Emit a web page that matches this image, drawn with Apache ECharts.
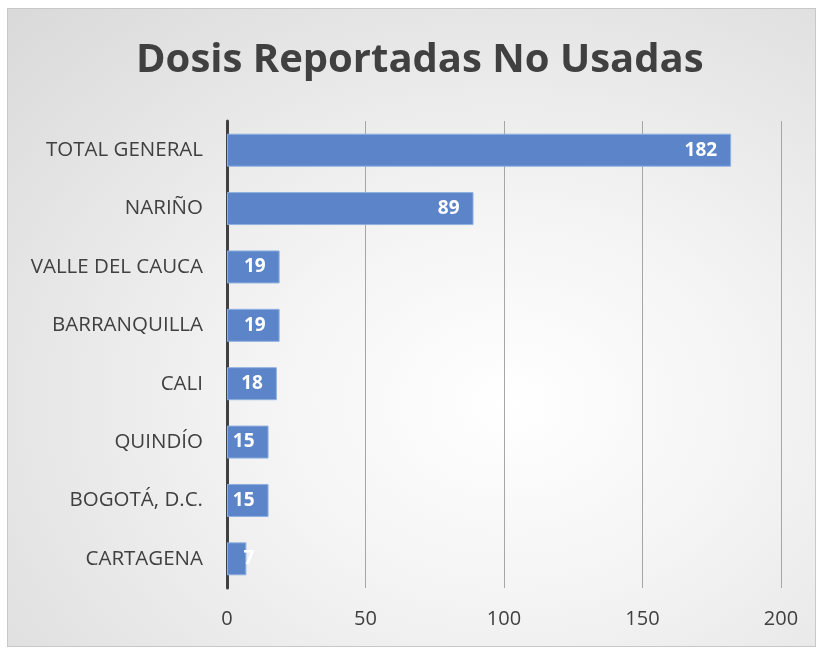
<!DOCTYPE html>
<html>
<head>
<meta charset="utf-8">
<script src="https://cdn.jsdelivr.net/npm/echarts@6/dist/echarts.min.js"></script>
<style>
  html, body { margin: 0; padding: 0; background: #fff; }
  #box {
    position: absolute; left: 7px; top: 8px; width: 809px; height: 639px;
    border: 1px solid #c8c8c8; box-sizing: border-box;
    background: radial-gradient(ellipse at 62% 62%, #ffffff 0%, #f4f4f4 35%, #d9d9d9 100%);
  }
  #chart { width: 100%; height: 100%; }
</style>
</head>
<body>
<div id="box"><div id="chart"></div></div>
<script>
  // categorias de arriba hacia abajo
  const categories = ['TOTAL GENERAL', 'NARIÑO', 'VALLE DEL CAUCA', 'BARRANQUILLA', 'CALI', 'QUINDÍO', 'BOGOTÁ, D.C.', 'CARTAGENA']
  const values = [182, 89, 19, 19, 18, 15, 15, 7]
  const xTicks = [0, 50, 100, 150, 200]

  // barras muy cortas: la etiqueta queda sobre el extremo
  const seriesData = values.map((v) => {
    if (v < 10) {
      return { value: v, label: { position: 'right', distance: -3 } }
    }
    return v
  })

  const chart = echarts.init(document.getElementById('chart'))
  chart.setOption({
    title: {
      text: 'Dosis Reportadas No Usadas',
      left: 123,
      top: 27,
      textStyle: {
        color: '#404040',
        fontSize: 40,
        fontWeight: 'bold',
        fontFamily: 'Open Sans',
      },
    },
    grid: { left: 219, top: 112, width: 554, height: 467 },
    xAxis: {
      type: 'value',
      min: xTicks[0],
      max: xTicks[xTicks.length - 1],
      interval: 50,
      axisLine: { show: false },
      axisTick: { show: false },
      axisLabel: { color: '#404040', fontSize: 20, fontFamily: 'Open Sans', margin: 21 },
      splitLine: { lineStyle: { color: '#a6a6a6', width: 1 } },
    },
    yAxis: {
      type: 'category',
      data: categories,
      inverse: true,
      axisLine: { lineStyle: { color: '#404040', width: 3 } },
      axisTick: { show: false },
      axisLabel: { color: '#404040', fontSize: 20.5, fontFamily: 'Open Sans', margin: 24 },
    },
    series: [
      {
        type: 'bar',
        data: seriesData,
        barWidth: 33,
        itemStyle: { color: '#5b84c9', borderColor: '#8fb0e0', borderWidth: 1 },
        label: {
          show: true,
          position: 'insideRight',
          distance: 14,
          color: '#fff',
          fontSize: 19,
          fontWeight: 'bold',
          fontFamily: 'Open Sans',
        },
      },
    ],
  })
</script>
</body>
</html>
